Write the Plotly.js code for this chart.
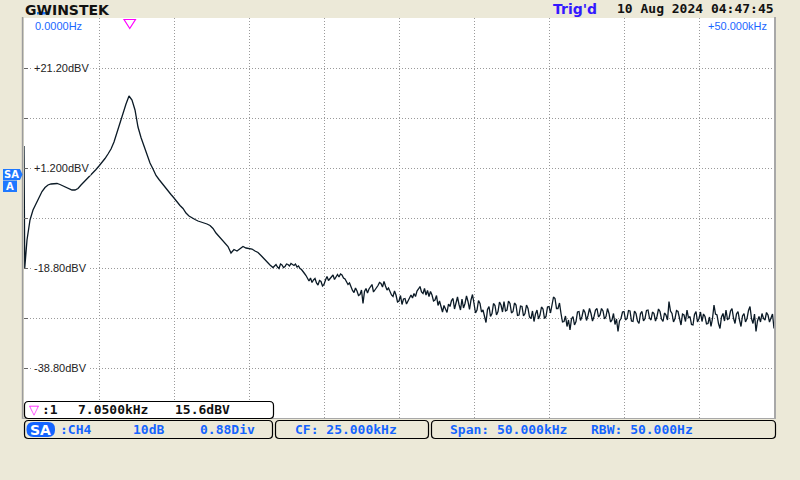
<!DOCTYPE html>
<html><head><meta charset="utf-8">
<script src="https://cdn.plot.ly/plotly-3.0.1.min.js"></script>
<style>html,body{margin:0;padding:0;background:#ECE9D8;} #chart{width:800px;height:480px;}</style>
</head><body><div id="chart"></div>
<script>
// ---- data ----
const leadFreqKHz = [0, 0.05];
const leadLevelDBV = [5.6, -18.8];
// smooth part: 0.2 .. 16.4 kHz, step 0.2 kHz
const smoothStartKHz = 0.2, smoothStepKHz = 0.2;
const smoothLevelDBV = [
 -13.2,-9.2,-7.2,-6.0,-4.6,-3.5,-2.7,-2.2,-2.0,-1.9,
 -1.9,-2.1,-2.4,-2.7,-3.0,-3.2,-3.2,-2.9,-2.2,-1.6,
 -1.1,-0.4,0.3,0.9,1.6,2.3,3.1,4.0,5.0,6.4,
 8.4,10.3,12.4,14.0,15.6,14.8,12.8,9.4,7.3,5.5,
 3.8,2.2,1.0,-0.3,-1.1,-1.9,-2.7,-3.4,-4.1,-4.8,
 -5.6,-6.3,-6.9,-7.8,-8.4,-8.8,-9.1,-9.4,-9.6,-9.7,
 -10.0,-10.3,-10.9,-11.8,-12.5,-13.2,-13.7,-14.5,-15.8,-15.1,
 -15.4,-15.0,-14.5,-14.8,-14.9,-15.0,-15.4,-15.7,-16.3,-17.0,
 -17.7,-18.2
];
// noisy part: 16.6 .. 50.0 kHz, step 0.1 kHz
const noiseStartKHz = 16.6, noiseStepKHz = 0.1;
const noiseLevelDBV = [
 -18.7,-18.3,-18.1,-18.6,-18.9,-18.0,-18.2,-18.7,-18.5,-18.0,
 -18.1,-18.4,-17.9,-18.1,-18.3,-18.0,-18.6,-18.4,-18.9,-19.1,
 -19.4,-19.9,-20.3,-20.8,-21.4,-20.8,-21.7,-21.2,-20.9,-21.8,
 -22.2,-21.3,-21.5,-22.4,-22.1,-21.2,-20.5,-21.3,-20.9,-20.4,
 -20.2,-21.1,-20.7,-20.1,-20.6,-20.0,-20.2,-20.8,-21.0,-21.6,
 -22.1,-21.8,-22.7,-23.3,-23.7,-22.8,-23.4,-24.3,-24.1,-23.2,
 -25.9,-23.5,-22.9,-23.8,-23.0,-22.4,-22.1,-23.6,-23.2,-22.6,
 -22.3,-21.7,-21.9,-22.6,-21.5,-22.4,-23.2,-22.8,-23.5,-24.2,
 -24.5,-23.4,-24.2,-25.6,-25.4,-24.3,-26.1,-25.0,-24.9,-26.0,
 -25.4,-24.6,-24.2,-24.8,-23.9,-24.5,-23.4,-23.0,-22.5,-23.6,
 -23.9,-22.9,-24.2,-23.3,-24.5,-23.5,-24.2,-25.4,-25.2,-24.3,
 -26.3,-25.4,-26.7,-27.6,-26.3,-27.1,-27.7,-26.0,-26.5,-25.3,
 -24.9,-27.0,-25.9,-24.6,-26.1,-27.2,-25.0,-26.8,-25.9,-24.4,
 -25.5,-27.1,-25.2,-24.1,-25.9,-27.8,-27.2,-25.3,-25.9,-27.6,
 -27.2,-28.6,-29.7,-27.1,-26.5,-28.5,-27.9,-25.9,-26.3,-28.2,
 -27.5,-25.6,-26.2,-27.6,-25.5,-27.4,-27.2,-25.4,-25.9,-27.8,
 -27.5,-25.8,-26.2,-28.3,-28.2,-26.4,-26.5,-28.4,-27.9,-26.2,
 -26.9,-28.6,-28.9,-27.4,-29.5,-28.0,-27.2,-29.0,-28.2,-26.6,
 -27.0,-28.9,-28.5,-26.6,-26.5,-27.8,-25.9,-24.6,-24.9,-26.9,
 -26.9,-25.8,-27.9,-29.6,-29.5,-28.4,-30.5,-29.2,-31.2,-29.0,
 -28.5,-30.2,-29.5,-27.6,-27.5,-29.3,-28.5,-27.1,-27.7,-29.3,
 -28.3,-26.9,-27.9,-29.4,-28.5,-27.2,-26.9,-28.6,-28.2,-26.9,
 -27.4,-29.0,-28.5,-26.9,-27.9,-29.6,-29.2,-27.9,-30.1,-29.0,
 -31.5,-29.4,-28.9,-27.6,-27.5,-29.2,-28.9,-27.3,-27.4,-29.4,
 -29.5,-27.4,-27.9,-29.4,-29.9,-27.9,-27.5,-29.4,-28.9,-27.3,
 -27.2,-28.8,-29.2,-27.6,-27.9,-29.4,-28.5,-27.0,-27.5,-29.0,
 -29.5,-27.8,-28.2,-29.2,-25.5,-27.4,-27.9,-29.6,-28.9,-27.3,
 -27.5,-29.1,-30.2,-28.0,-28.2,-29.5,-27.2,-28.8,-28.5,-30.1,
 -30.2,-28.1,-27.5,-29.6,-28.9,-27.6,-29.5,-28.0,-28.5,-30.0,
 -29.9,-28.6,-30.5,-28.9,-26.2,-28.0,-28.2,-29.9,-30.9,-28.6,
 -27.9,-29.4,-27.2,-29.1,-28.9,-27.4,-26.9,-28.8,-29.9,-28.0,
 -27.5,-29.2,-30.5,-28.4,-27.9,-29.6,-28.9,-27.3,-26.5,-28.9,
 -29.9,-28.0,-31.5,-29.4,-28.5,-29.6,-27.9,-28.9,-29.2,-27.7,
 -28.2,-29.6,-28.9,-28.0,-30.9
];
const yLabelValues = [21.2, 1.2, -18.8, -38.8];
const yLabelTexts = ['+21.20dBV', '+1.200dBV', '-18.80dBV', '-38.80dBV'];
const startLabel = '0.0000Hz', stopLabel = '+50.000kHz';
const markerFreqKHz = 7.05, markerLevelDBV = 15.6;
const markerText = ':1', markerFreqText = '7.0500kHz', markerLevelText = '15.6dBV';
const chanText = ':CH4', scaleText = '10dB', posText = '0.88Div';
const cfText = 'CF: 25.000kHz', spanText = 'Span: 50.000kHz', rbwText = 'RBW: 50.000Hz';
const trigText = "Trig'd", dateText = '10 Aug 2024 04:47:45', brandText = 'GWINSTEK';

const freqKHz = leadFreqKHz
  .concat(smoothLevelDBV.map((_, i) => smoothStartKHz + i * smoothStepKHz))
  .concat(noiseLevelDBV.map((_, i) => noiseStartKHz + i * noiseStepKHz));
const levels = leadLevelDBV.concat(smoothLevelDBV).concat(noiseLevelDBV);

// ---- layout helpers (pixel -> paper) ----
const L = 24, R = 26, T = 18, B = 62, W = 800, H = 480;
const PW = W - L - R, PH = H - T - B;
const X = px => (px - L) / PW;
const Y = py => (H - B - py) / PH;
function rrect(x0, y0, x1, y1, r) {
  const p = (a, b) => X(a) + ',' + Y(b);
  return 'M' + p(x0 + r, y0) + ' L' + p(x1 - r, y0) + ' Q' + p(x1, y0) + ' ' + p(x1, y0 + r) +
    ' L' + p(x1, y1 - r) + ' Q' + p(x1, y1) + ' ' + p(x1 - r, y1) +
    ' L' + p(x0 + r, y1) + ' Q' + p(x0, y1) + ' ' + p(x0, y1 - r) +
    ' L' + p(x0, y0 + r) + ' Q' + p(x0, y0) + ' ' + p(x0 + r, y0) + ' Z';
}
const BLUE = '#1464ff';
const MONO = 'DejaVu Sans Mono';
function txt(text, px, py, color, size, family, weight, anchor) {
  return { xref: 'paper', yref: 'paper', x: X(px), y: Y(py), text: text, showarrow: false,
    xanchor: anchor || 'left', yanchor: 'middle', borderpad: 0,
    font: { family: family || MONO, size: size || 13, color: color, weight: weight || 'bold' } };
}

const annotations = [];
yLabelValues.forEach((v, i) => annotations.push({
  xref: 'paper', yref: 'y', x: X(32), y: v, text: yLabelTexts[i], showarrow: false,
  xanchor: 'left', yanchor: 'middle', bgcolor: '#ffffff', borderpad: 1,
  font: { family: 'Liberation Sans', size: 11, color: '#222222' }
}));
annotations.push(txt(startLabel, 34, 25.5, '#1a66ff', 11, 'Liberation Sans', 'normal'));
annotations.push(txt(stopLabel, 768, 25.5, '#1a66ff', 11, 'Liberation Sans', 'normal', 'right'));
annotations.push(txt(brandText, 24, 9.5, '#111111', 14, 'DejaVu Sans', 'bold'));
annotations.push(txt(trigText, 552, 8.5, '#3318ff', 14, 'DejaVu Sans', 'bold'));
annotations.push(txt(dateText, 616, 8.5, '#111111', 13, MONO, 'bold'));
annotations.push(txt('▽', 28, 409.5, '#ff00ff', 13, 'DejaVu Sans', 'normal'));
annotations.push(txt(markerText, 41, 409.5, '#111111', 13));
annotations.push(txt(markerFreqText, 77, 409.5, '#111111', 13));
annotations.push(txt(markerLevelText, 174, 409.5, '#111111', 13));
annotations.push(txt('SA', 40.5, 429.5, '#ffffff', 14, 'DejaVu Sans', 'bold', 'center'));
annotations.push(txt(chanText, 59, 429.5, BLUE, 13));
annotations.push(txt(scaleText, 132, 429.5, BLUE, 13));
annotations.push(txt(posText, 199, 429.5, BLUE, 13));
annotations.push(txt(cfText, 294, 429.5, BLUE, 13));
annotations.push(txt(spanText, 449, 429.5, BLUE, 13));
annotations.push(txt(rbwText, 590, 429.5, BLUE, 13));
annotations.push(txt('SA', 11.5, 174.5, '#ffffff', 10, 'DejaVu Sans', 'bold', 'center'));
annotations.push(txt('A', 10, 186, '#ffffff', 10, 'DejaVu Sans', 'bold', 'center'));

const shapes = [
  // plot frame
  { type: 'line', xref: 'paper', yref: 'paper', x0: X(22.6), x1: X(22.6), y0: Y(17), y1: Y(419), line: { color: '#9c9c9c', width: 1.6 } },
  { type: 'line', xref: 'paper', yref: 'paper', x0: X(775), x1: X(775), y0: Y(17), y1: Y(419), line: { color: '#a8a8a8', width: 2 } },
  { type: 'line', xref: 'paper', yref: 'paper', x0: X(22), x1: X(776), y0: Y(418.5), y1: Y(418.5), line: { color: '#a8a8a8', width: 1 } },
  // marker triangle at top
  { type: 'path', xref: 'x', yref: 'paper', path: 'M' + (markerFreqKHz - 0.38) + ',' + Y(19.5) + ' L' + (markerFreqKHz + 0.38) + ',' + Y(19.5) + ' L' + markerFreqKHz + ',' + Y(28.5) + ' Z',
    line: { color: '#ff00ff', width: 1.2 }, fillcolor: 'rgba(0,0,0,0)' },
  // marker readout box
  { type: 'path', xref: 'paper', yref: 'paper', path: rrect(24.5, 401.5, 273.5, 418.5, 4), line: { color: '#000000', width: 1.2 }, fillcolor: '#ffffff' },
  // bottom status boxes
  { type: 'path', xref: 'paper', yref: 'paper', path: rrect(24.5, 420.5, 272.5, 438.5, 4), line: { color: '#000000', width: 1.2 }, fillcolor: 'rgba(0,0,0,0)' },
  { type: 'path', xref: 'paper', yref: 'paper', path: rrect(275.5, 420.5, 428.5, 438.5, 4), line: { color: '#000000', width: 1.2 }, fillcolor: 'rgba(0,0,0,0)' },
  { type: 'path', xref: 'paper', yref: 'paper', path: rrect(431.5, 420.5, 775.5, 438.5, 4), line: { color: '#000000', width: 1.2 }, fillcolor: 'rgba(0,0,0,0)' },
  { type: 'path', xref: 'paper', yref: 'paper', path: rrect(26.5, 422, 55, 437, 7), line: { width: 0 }, fillcolor: BLUE },
  // left SA/A reference marker
  { type: 'path', xref: 'paper', yref: 'paper', path: 'M' + X(3) + ',' + Y(169) + ' L' + X(20) + ',' + Y(169) + ' L' + X(22.5) + ',' + Y(174.5) + ' L' + X(20) + ',' + Y(180) + ' L' + X(3) + ',' + Y(180) + ' Z', line: { width: 0 }, fillcolor: '#1e78ff' },
  { type: 'rect', xref: 'paper', yref: 'paper', x0: X(3), x1: X(17), y0: Y(180.5), y1: Y(192), line: { width: 0 }, fillcolor: '#1e78ff' },
  // blue bar in logo
  { type: 'rect', xref: 'paper', yref: 'paper', x0: X(37), x1: X(49), y0: Y(12), y1: Y(14.5), line: { width: 0 }, fillcolor: '#1e78ff' }
];

const trace = {
  x: freqKHz, y: levels, type: 'scatter', mode: 'lines',
  line: { color: '#0b1a26', width: 1.3 }, hoverinfo: 'skip'
};

const layout = {
  width: W, height: H, margin: { l: L, r: R, t: T, b: B, pad: 0 },
  paper_bgcolor: '#ECE9D8', plot_bgcolor: '#ffffff', showlegend: false,
  xaxis: { range: [0, 50], dtick: 5, tick0: 0, showgrid: true, gridcolor: '#9a9a9a', griddash: '1px,2px', gridwidth: 1,
    showticklabels: false, ticks: '', zeroline: false, showline: false, fixedrange: true },
  yaxis: { range: [-48.8, 31.2], dtick: 10, tick0: 1.2, showgrid: true, gridcolor: '#9a9a9a', griddash: '1px,2px', gridwidth: 1,
    showticklabels: false, ticks: 'inside', ticklen: 4, tickcolor: '#666666', zeroline: false, showline: false, fixedrange: true },
  annotations: annotations, shapes: shapes
};

Plotly.newPlot('chart', [trace], layout, { staticPlot: true, displayModeBar: false });
</script>
</body></html>
